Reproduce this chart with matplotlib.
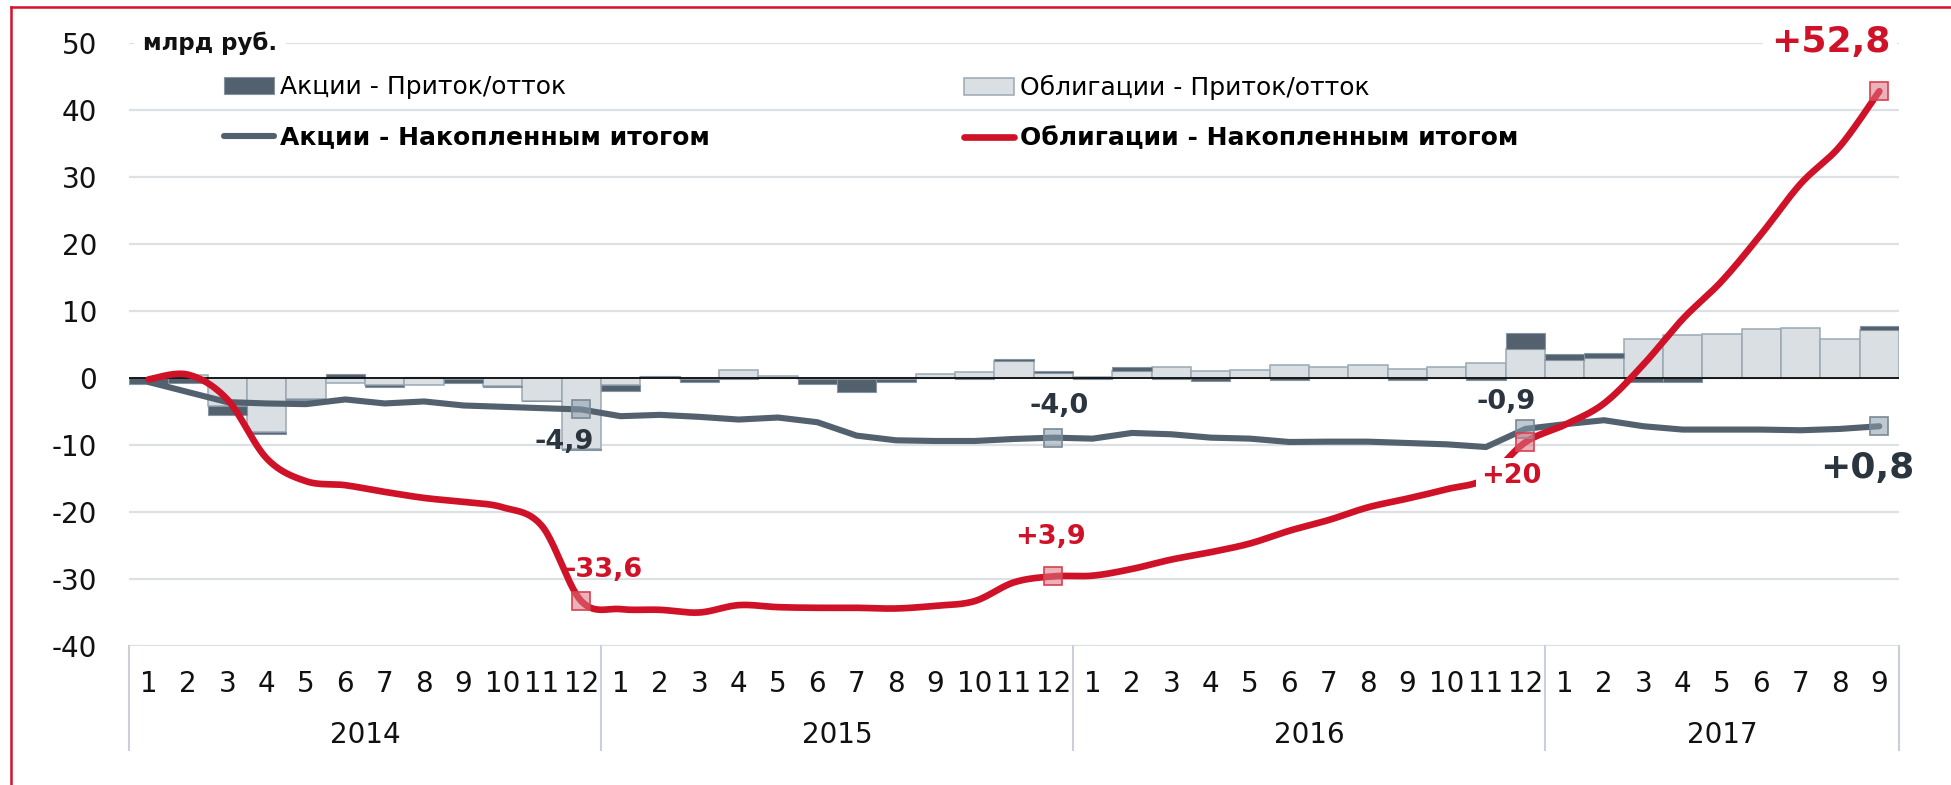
import numpy as np
import matplotlib
matplotlib.use("Agg")
import matplotlib.pyplot as plt
from matplotlib.lines import Line2D
from matplotlib.transforms import blended_transform_factory

plt.rcParams['font.family'] = ['DejaVu Sans']
plt.rcParams['axes.unicode_minus'] = False

# ---------------- data ----------------
years = ['2014', '2015', '2016', '2017']
months_per_year = [12, 12, 12, 9]
month_labels = [str(m) for n in months_per_year for m in range(1, n + 1)]

# monthly flows, bn RUB
bonds_flow = [0.0, 0.5, -4.2, -8.1, -3.2, -0.8, -1.1, -1.0, -0.2, -1.2, -3.4, -10.6,
              -1.1, 0.1, -0.2, 1.15, 0.3, -0.2, -0.2, -0.1, 0.55, 0.85, 2.6, 0.8,
              0.1, 1.0, 1.65, 1.1, 1.15, 1.9, 1.65, 2.0, 1.4, 1.6, 2.2, 4.3,
              2.75, 3.05, 5.8, 6.4, 6.5, 7.3, 7.5, 5.8, 7.2]
stocks_flow = [-0.9, -0.8, -1.3, -0.2, -0.1, 0.65, -0.3, 0.2, -0.6, -0.2, -0.1, -0.2,
               -0.85, 0.2, -0.4, -0.2, 0.0, -0.75, -1.9, -0.5, 0.0, -0.2, 0.25, 0.25,
               -0.1, 0.65, -0.2, -0.5, 0.0, -0.3, 0.0, 0.0, -0.25, 0.0, -0.3, 2.35,
               0.85, 0.75, -0.6, -0.55, 0.0, 0.0, 0.0, 0.0, 0.5]

# cumulative lines
stocks_cum = [-0.6, -2.1, -3.6, -3.8, -3.9, -3.2, -3.8, -3.5, -4.1, -4.3, -4.5, -4.7,
              -5.7, -5.5, -5.8, -6.2, -5.9, -6.6, -8.6, -9.3, -9.4, -9.4, -9.1, -8.9,
              -9.05, -8.2, -8.4, -8.9, -9.05, -9.55, -9.5, -9.5, -9.7, -9.9, -10.3, -7.6,
              -6.9, -6.3, -7.2, -7.7, -7.7, -7.7, -7.8, -7.6, -7.2]
bonds_cum = [-0.2, 0.5, -3.2, -12.0, -15.4, -16.0, -17.0, -17.9, -18.5, -19.3, -22.1, -33.3,
             -34.5, -34.6, -35.0, -33.9, -34.2, -34.3, -34.3, -34.4, -34.0, -33.3, -30.5, -29.6,
             -29.5, -28.5, -27.1, -26.0, -24.7, -22.8, -21.2, -19.3, -18.0, -16.6, -15.0, -9.6,
             -7.0, -3.8, 2.0, 8.8, 14.5, 21.5, 29.0, 34.6, 42.8]

marked_idx = [11, 23, 35, 44]
stock_labels = ['-4,9', '-4,0', '-0,9', '+0,8']
bond_labels = ['-33,6', '+3,9', '+20', '+52,8']

legend_labels = ['Акции - Приток/отток', 'Акции - Накопленным итогом',
                 'Облигации - Приток/отток', 'Облигации - Накопленным итогом']
unit_label = 'млрд руб.'

# ---------------- styles ----------------
C_DARK = '#52616D'
C_LIGHT = '#DADFE4'
C_LIGHT_EDGE = '#9AA9B5'
C_RED = '#D01228'
C_GRID = '#DCE1E6'
C_TXT = '#2B353F'
TICK_FS = 20

W, H = 1951, 785
fig = plt.figure(figsize=(W / 100, H / 100), dpi=100)
L, R, T, B = 129, 1899, 43, 646
ax = fig.add_axes([L / W, 1 - B / H, (R - L) / W, (B - T) / H])

x = np.arange(len(month_labels))
bf = np.array(bonds_flow)
sf = np.array(stocks_flow)
dark_bottom = np.where(np.sign(sf) == np.sign(bf), bf, 0.0)

b_light = ax.bar(x, bf, width=1.0, color=C_LIGHT, edgecolor=C_LIGHT_EDGE, linewidth=1.1, zorder=2)
b_dark = ax.bar(x, sf, bottom=dark_bottom, width=1.0, color=C_DARK, edgecolor='#8594A0',
                linewidth=0.8, zorder=2)
ax.axhline(0, color='black', lw=1.2, zorder=3)


def catmull(xs, ys, n=24):
    xs = np.asarray(xs, float)
    ys = np.asarray(ys, float)
    px = np.concatenate([[xs[0]], xs, [xs[-1]]])
    py = np.concatenate([[ys[0]], ys, [ys[-1]]])
    ox, oy = [], []
    t = np.linspace(0, 1, n, endpoint=False)
    for i in range(1, len(px) - 2):
        p0 = np.array([px[i - 1], py[i - 1]])
        p1 = np.array([px[i], py[i]])
        p2 = np.array([px[i + 1], py[i + 1]])
        p3 = np.array([px[i + 2], py[i + 2]])
        c1 = p1 + (p2 - p0) / 6
        c2 = p2 - (p3 - p1) / 6
        pts = ((1 - t) ** 3)[:, None] * p1 + (3 * (1 - t) ** 2 * t)[:, None] * c1 + \
              (3 * (1 - t) * t ** 2)[:, None] * c2 + (t ** 3)[:, None] * p2
        ox.extend(pts[:, 0]); oy.extend(pts[:, 1])
    ox.append(xs[-1]); oy.append(ys[-1])
    return np.array(ox), np.array(oy)


l_gray, = ax.plot(x, stocks_cum, color=C_DARK, lw=4.4, solid_capstyle='round',
                  solid_joinstyle='round', zorder=4)
sx, sy = catmull(x, bonds_cum)
l_red, = ax.plot(sx, sy, color=C_RED, lw=4.8, solid_capstyle='round',
                 solid_joinstyle='round', zorder=5)

mi = np.array(marked_idx)
ax.plot(mi, np.array(stocks_cum)[mi], ls='none', marker='s', ms=13,
        mfc=(0.55, 0.62, 0.68, 0.55), mec='#7A8995', mew=1.2, zorder=7)
ax.plot(mi, np.array(bonds_cum)[mi], ls='none', marker='s', ms=13,
        mfc=(0.86, 0.45, 0.50, 0.55), mec='#D8414F', mew=1.2, zorder=8)

# annotations (offsets in pixels: right, up)
stock_off = [(-17, -33), (6, 32), (-19, 27), (-12, -42)]
bond_off = [(22, 31), (-3, 39), (-14, -34), (-49, 49)]
for k, (i, txt) in enumerate(zip(marked_idx, stock_labels)):
    big = (k == len(stock_labels) - 1)
    kw = {}
    if big:
        kw['bbox'] = dict(boxstyle='square,pad=0.15', fc='white', ec='none')
    ax.annotate(txt, (i, stocks_cum[i]), xytext=stock_off[k], textcoords='offset pixels',
                ha='center', va='center', fontsize=26 if big else 19.5, fontweight='bold',
                color=C_TXT, zorder=6, **kw)
for k, (i, txt) in enumerate(zip(marked_idx, bond_labels)):
    big = (k == len(bond_labels) - 1)
    kw = {}
    if k >= 2:
        kw['bbox'] = dict(boxstyle='square,pad=0.2', fc='white', ec='none')
    ax.annotate(txt, (i, bonds_cum[i]), xytext=bond_off[k], textcoords='offset pixels',
                ha='center', va='center', fontsize=26 if big else 19.5, fontweight='bold',
                color=C_RED, zorder=6, **kw)

# axes styling
ax.set_xlim(-0.5, len(x) - 0.5)
ax.set_ylim(-40, 50)
ax.set_yticks(np.arange(-40, 51, 10))
ax.grid(axis='y', color=C_GRID, lw=1.6, zorder=0)
ax.set_axisbelow(True)
for s in ax.spines.values():
    s.set_visible(False)
ax.tick_params(axis='y', length=0, pad=23, labelsize=TICK_FS, labelcolor='#111111')
ax.set_xticks(x, month_labels)
ax.tick_params(axis='x', length=0, pad=17, labelsize=TICK_FS, labelcolor='#111111')

# category table below
trans = blended_transform_factory(ax.transData, ax.transAxes)
bounds = np.concatenate([[0], np.cumsum(months_per_year)]) - 0.5
for bx in bounds:
    ax.add_line(Line2D([bx, bx], [0, -0.173], transform=trans, color='#C9D0D7',
                       lw=1.5, clip_on=False))
starts = np.concatenate([[0], np.cumsum(months_per_year)[:-1]])
for yr, st, n in zip(years, starts, months_per_year):
    ax.text(st + (n - 1) / 2, -0.147, yr, transform=trans, ha='center', va='center',
            fontsize=TICK_FS, color='#111111')

# unit label
ax.text(0.008, 50, unit_label, transform=blended_transform_factory(ax.transAxes, ax.transData),
        ha='left', va='center', fontsize=16.5, fontweight='bold', color='#111111', zorder=6,
        bbox=dict(boxstyle='square,pad=0.4', fc='white', ec='none'))

# legends (two columns)
leg_kw = dict(loc='upper left', bbox_transform=fig.transFigure, frameon=False, fontsize=18,
              handlelength=2.0, handletextpad=0.25, labelspacing=1.05, borderpad=0,
              borderaxespad=0)
leg1 = ax.legend([b_dark, l_gray], legend_labels[:2], bbox_to_anchor=(224 / W, 1 - 75 / H),
                 **leg_kw)
leg1.get_texts()[1].set_fontweight('bold')
ax.add_artist(leg1)
leg2 = ax.legend([b_light, l_red], legend_labels[2:], bbox_to_anchor=(964 / W, 1 - 75 / H),
                 **leg_kw)
leg2.get_texts()[1].set_fontweight('bold')

# red frame (top and left)
fig.add_artist(Line2D([11 / W, 1], [1 - 7 / H, 1 - 7 / H], transform=fig.transFigure,
                      color='#D6112B', lw=1.8))
fig.add_artist(Line2D([11 / W, 11 / W], [0, 1 - 7 / H], transform=fig.transFigure,
                      color='#D6112B', lw=1.8))

fig.savefig('out.png', dpi=100, facecolor='white')
